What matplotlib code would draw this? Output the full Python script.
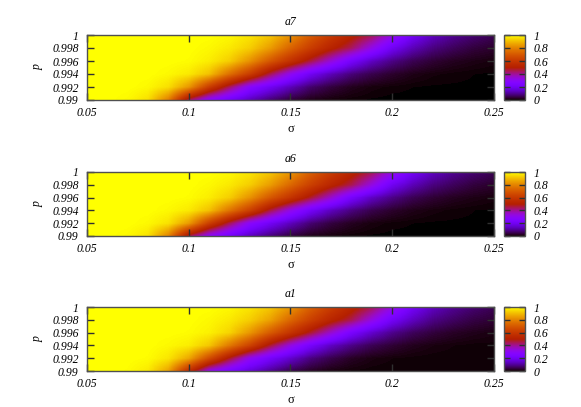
import matplotlib
matplotlib.use("Agg")
import matplotlib.pyplot as plt
import numpy as np

# grid: sigma columns, p rows
sigma = np.round(np.arange(0.05, 0.2501, 0.01), 3)
p = [0.990, 0.992, 0.994, 0.996, 0.998, 1.000]

a7 = [
    [1, 1, .99, .955, .79, .44, .28, .20, .13, .075, .035, .015, .008, .005, .003, .002, .002, .002, .002, .002, .002],
    [1, 1, 1, .99, .955, .84, .62, .44, .28, .20, .13, .07, .04, .02, .01, .006, .004, .003, .003, .003, .003],
    [1, 1, 1, 1, .99, .97, .91, .76, .62, .45, .31, .20, .13, .08, .05, .03, .016, .009, .006, .004, .003],
    [1, 1, 1, 1, 1, .995, .975, .93, .83, .70, .58, .46, .34, .22, .14, .09, .055, .035, .022, .015, .01],
    [1, 1, 1, 1, 1, 1, .99, .97, .93, .85, .73, .62, .52, .44, .32, .20, .13, .085, .06, .04, .03],
    [1, 1, 1, 1, 1, 1, 1, .99, .965, .92, .83, .71, .61, .52, .45, .33, .21, .14, .10, .075, .055],
]
a6 = [
    [1, 1, .99, .96, .80, .46, .29, .21, .135, .08, .04, .017, .009, .005, .003, .002, .002, .002, .002, .002, .002],
    [1, 1, 1, .99, .96, .85, .63, .45, .29, .205, .135, .075, .042, .022, .011, .006, .004, .003, .003, .003, .003],
    [1, 1, 1, 1, .99, .97, .91, .77, .63, .46, .32, .21, .135, .085, .05, .03, .017, .01, .006, .004, .003],
    [1, 1, 1, 1, 1, .995, .975, .93, .83, .70, .59, .47, .35, .22, .14, .09, .055, .035, .022, .015, .01],
    [1, 1, 1, 1, 1, 1, .99, .97, .93, .85, .74, .63, .53, .45, .33, .20, .13, .085, .06, .04, .03],
    [1, 1, 1, 1, 1, 1, 1, .99, .965, .92, .84, .72, .62, .53, .45, .33, .21, .14, .10, .075, .055],
]
a1 = [
    [1, 1, .995, .97, .86, .56, .32, .23, .16, .10, .05, .025, .012, .007, .005, .004, .004, .004, .004, .004, .004],
    [1, 1, 1, .995, .965, .87, .67, .48, .31, .22, .15, .085, .05, .025, .013, .008, .006, .005, .005, .005, .005],
    [1, 1, 1, 1, .99, .975, .92, .78, .64, .47, .33, .22, .14, .09, .055, .035, .02, .012, .008, .006, .006],
    [1, 1, 1, 1, 1, .995, .98, .94, .84, .71, .59, .47, .35, .23, .15, .095, .06, .04, .026, .018, .013],
    [1, 1, 1, 1, 1, 1, .99, .97, .93, .86, .74, .63, .53, .45, .33, .21, .14, .09, .065, .045, .035],
    [1, 1, 1, 1, 1, 1, 1, .99, .965, .92, .84, .72, .62, .53, .45, .33, .21, .14, .10, .075, .055],
]

titles = ["a7", "a6", "a1"]
panels = [a7, a6, a1]

xticks = [0.05, 0.1, 0.15, 0.2, 0.25]
xlabels = ["0.05", "0.1", "0.15", "0.2", "0.25"]
yticks = [0.99, 0.992, 0.994, 0.996, 0.998, 1.0]
ylabels = ["0.99", "0.992", "0.994", "0.996", "0.998", "1"]
cticks = [0, 0.2, 0.4, 0.6, 0.8, 1]
clabels = ["0", "0.2", "0.4", "0.6", "0.8", "1"]

serif = "Liberation Serif"
edge = "#505050"

fig = plt.figure(figsize=(5.81, 4.07), dpi=100)

# axes boxes in pixels (top, bottom)
rows_px = [(35, 100), (172, 236), (307, 371)]
W, H = 581.0, 407.0

dx = (sigma[1] - sigma[0]) / 2
dy = (p[1] - p[0]) / 2
ext = [sigma[0] - dx, sigma[-1] + dx, p[0] - dy, p[-1] + dy]

for (top, bot), title, z in zip(rows_px, titles, panels):
    ax = fig.add_axes([87 / W, 1 - bot / H, (494 - 87) / W, (bot - top) / H])
    cax = fig.add_axes([504 / W, 1 - bot / H, 21 / W, (bot - top) / H])

    im = ax.imshow(np.array(z), cmap="gnuplot", vmin=0, vmax=1, origin="lower",
                   extent=ext, aspect="auto", interpolation="bilinear")
    ax.set_xlim(0.05, 0.25)
    ax.set_ylim(0.99, 1.0)

    ax.set_xticks(xticks)
    ax.set_xticklabels(xlabels, family=serif, style="italic", fontsize=8.5)
    ax.set_yticks(yticks)
    ax.set_yticklabels(ylabels, family=serif, style="italic", fontsize=8.5)
    ax.tick_params(direction="in", length=5, width=1, color="#303030",
                   top=True, right=True, pad=6)
    ax.tick_params(axis="x", pad=5)
    for s in ax.spines.values():
        s.set_color(edge)
        s.set_linewidth(1)

    ax.set_title(title, family=serif, style="italic", fontsize=8.5, pad=7)
    ax.set_xlabel("σ", family=serif, fontsize=9, labelpad=3)
    ax.set_ylabel("p", family=serif, style="italic", fontsize=8.5, labelpad=6)

    cb = fig.colorbar(im, cax=cax, ticks=cticks)
    cb.outline.set_edgecolor(edge)
    cb.outline.set_linewidth(1)
    cax.set_yticklabels(clabels, family=serif, style="italic", fontsize=8.5)
    cax.tick_params(direction="in", length=4, width=1, color="#303030",
                    left=True, right=True, pad=6)

fig.savefig("out.png", dpi=100)
